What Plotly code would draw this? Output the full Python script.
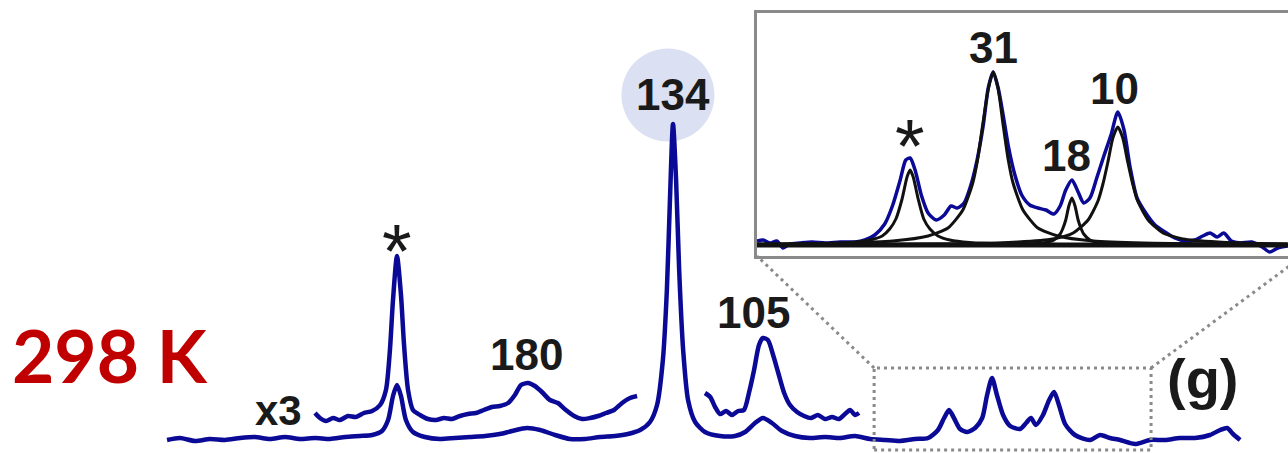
import plotly.graph_objects as go

# ---------------- data ----------------
# Raman shift (cm^-1) and intensity (arb. units), full spectrum
full_shift = [298.8, 294.6, 289.7, 284.8, 279.9, 275.0, 270.2, 265.3, 260.4, 255.5,
              250.6, 245.7, 240.8, 236.0, 232.0, 228.8, 226.8, 225.2, 223.9, 222.6,
              221.0, 218.7, 214.8, 209.9, 205.0, 200.1, 195.2, 190.4, 186.4, 181.6,
              177.3, 172.4, 167.6, 162.7, 157.8, 152.9, 148.7, 144.7, 141.5, 139.2,
              137.3, 136.0, 135.0, 134.0, 133.0, 132.0, 130.7, 129.1, 126.8, 123.6,
              118.7, 113.8, 110.5, 107.3, 104.7, 101.8, 98.5, 94.3, 89.4, 84.5,
              79.6, 74.7, 69.8, 64.9, 60.1, 55.2, 50.9, 47.7, 45.7, 44.1,
              42.5, 40.5, 38.2, 35.6, 33.3, 31.7, 30.1, 28.5, 26.5, 24.2,
              21.0, 19.0, 17.4, 15.8, 13.5, 11.5, 9.9, 8.3, 6.3, 3.1,
              -1.8, -5.1, -8.3, -11.6, -16.5, -21.4, -26.3, -31.1, -36.0, -40.9,
              -44.2, -46.5, -48.4, -50.7]
full_int = [-2, 0, -3, -1, -2, 0, 1, -1, 1, -1,
            0, -1, 1, 2, 3, 7, 18, 42, 53, 42,
            18, 6, 1, -1, 0, 1, 2, 4, 7, 10,
            8, 3, -1, -1, 1, 2, 4, 8, 16, 33,
            78, 148, 238, 314, 258, 168, 88, 38, 16, 6,
            2, 2, 6, 15, 20, 15, 7, 2, 0, 1,
            0, 2, -1, -2, -3, -1, 0, 8, 20, 28,
            20, 9, 6, 10, 20, 43, 60, 43, 23, 12,
            9, 15, 20, 13, 23, 38, 46, 33, 14, 3,
            -2, 3, 0, -2, -6, -2, -2, 0, 0, 3,
            8, 10, 4, -2]

# x3 magnified spectrum (offset), left and right segments
x3_left_shift = [250.6, 249.0, 247.0, 244.7, 242.5, 239.9, 237.3, 234.7, 232.0, 229.4,
                 227.5, 226.2, 225.2, 223.9, 222.6, 221.6, 220.3, 218.7, 216.4, 213.8,
                 211.2, 208.6, 206.0, 203.4, 200.8, 198.2, 195.6, 193.0, 190.4, 187.7,
                 185.5, 183.5, 181.2, 179.0, 176.7, 174.1, 171.5, 168.9, 166.2, 163.6,
                 161.0, 158.4, 155.8, 153.2, 150.6, 148.0, 145.7]
x3_left_int = [25, 20, 17, 20, 18, 22, 21, 25, 27, 33,
               48, 88, 138, 182, 143, 93, 48, 28, 23, 19,
               18, 20, 19, 22, 24, 25, 28, 31, 32, 35,
               43, 53, 55, 52, 46, 38, 35, 28, 22, 19,
               20, 22, 25, 28, 35, 40, 42]
x3_right_shift = [123.6, 121.9, 120.3, 118.7, 116.7, 114.8, 112.8, 110.9, 109.2, 107.6,
                  106.0, 104.7, 103.1, 101.4, 99.8, 97.8, 95.9, 93.6, 91.3, 89.0,
                  86.8, 84.5, 82.2, 79.9, 78.0, 76.3, 74.7, 73.4]
x3_right_int = [45, 41, 31, 24, 27, 23, 27, 28, 46, 68,
                93, 100, 98, 83, 66, 45, 33, 26, 22, 20,
                23, 19, 21, 19, 24, 28, 23, 25]

# inset: low-frequency region, measured spectrum
inset_shift = [68.5, 67.5, 66.4, 65.3, 64.3, 63.2, 61.6, 59.6, 57.5, 55.1,
               52.7, 51.1, 49.5, 47.9, 46.6, 45.4, 44.5, 43.8, 43.0, 42.0,
               40.9, 39.6, 38.3, 37.2, 36.2, 35.1, 34.0, 33.0, 32.0, 31.2,
               30.4, 29.6, 28.8, 27.9, 26.9, 25.8, 24.5, 23.2, 21.9, 20.6,
               19.6, 18.7, 17.7, 16.7, 15.8, 14.8, 13.7, 12.5, 11.4, 10.3,
               9.3, 8.3, 7.2, 5.9, 4.3, 2.7, 1.1, -0.5, -2.1, -3.4,
               -4.6, -5.7, -6.8, -8.0, -9.4, -11.3, -13.0, -14.2, -15.5, -17.1]
inset_int = [4, 5, 2, 4, -3, 1, 2, 3, 2, 3,
             3, 5, 10, 21, 40, 65, 85, 87, 75, 50,
             32, 25, 30, 39, 37, 42, 60, 85, 120, 157,
             173, 157, 130, 97, 70, 50, 40, 37, 35, 31,
             39, 55, 65, 53, 42, 47, 67, 90, 110, 133,
             115, 77, 47, 33, 20, 13, 7, 4, 5, 9,
             12, 8, 12, 4, 2, 3, -2, -7, -3, -1]

# inset: fitted components
fit_star_shift = [68.5, 60.0, 53.5, 50.3, 48.3, 47.1, 46.1, 45.1, 44.3, 43.8,
                  43.3, 42.5, 41.6, 40.6, 39.3, 37.4, 34.2, 27.7, 11.6, -17.1]
fit_star_int = [0.5, 1, 2.5, 5, 9, 16, 26, 46, 68, 75,
                68, 46, 26, 16, 9, 5, 2.5, 1, 0.3, 0.1]
fit_31_shift = [68.5, 54.6, 46.6, 40.9, 37.7, 35.3, 33.7, 32.9, 32.1, 31.2,
                30.4, 29.6, 28.8, 28.0, 27.2, 25.6, 23.2, 20.0, 14.3, 6.2, -17.1]
fit_31_int = [1, 2, 4, 9, 17, 35, 62, 86, 120, 156,
              173, 156, 120, 86, 62, 35, 17, 9, 4, 2, 0.8]
fit_18_shift = [68.5, 27.4, 22.5, 20.6, 19.6, 19.2, 18.7, 18.2, 17.7, 17.2,
                16.7, 16.2, 15.8, 14.8, 12.9, 8.0, -17.1]
fit_18_int = [0.1, 0.6, 2, 5, 11, 16, 25, 39, 47, 39,
              25, 16, 11, 5, 2, 0.6, 0.1]
fit_10_shift = [68.5, 34.5, 26.4, 20.8, 17.5, 15.1, 13.5, 12.7, 11.9, 11.1,
                10.3, 9.5, 8.7, 7.9, 7.1, 5.4, 3.0, -0.2, -5.9, -13.9, -17.1]
fit_10_int = [0.3, 1.3, 3, 6, 12, 25, 44, 61, 83, 107,
              118, 107, 83, 61, 44, 25, 12, 6, 3, 1.3, 1]
baseline_shift = [68.5, -17.1]
baseline_int = [0, 0]

# labels
main_labels = ["*", "180", "134", "105"]
main_label_shift = [223.9, 181.6, 134.0, 107.9]
main_label_int = [188, 84, 344, 126]
inset_labels = ["*", "31", "18", "10"]
inset_label_shift = [43.8, 30.4, 18.5, 10.9]
inset_label_int = [100, 198, 90, 157]
temperature_label = "298 K"
panel_label = "(g)"
scale_label = "x3"

# ---------------- styling / layout ----------------
W, H = 1288, 453
BLUE = "#0a0a96"
BLACK = "#111111"
GREY = "#8a8a8a"
XR = [353.2, -66.3]          # main shift range (reversed)
YR = [-15, 438]              # main intensity range
IN_XDOM = [757 / W, 1.0]
IN_YDOM = [1 - 256 / H, 1 - 13 / H]
IN_XR = [68.5, -17.15]
IN_YR = [-11, 232]
IN_RIGHT_EDGE = 1303 / W     # inset frame continues beyond the canvas
ZOOM_SHIFT = (68.5, -21.7)
ZOOM_INT = (-12, 70)

def px_x(v):   # main data -> paper
    return (v - XR[0]) / (XR[1] - XR[0])

def py_y(v):
    return (v - YR[0]) / (YR[1] - YR[0])

fig = go.Figure()

spline = dict(shape="spline", smoothing=0.7)
for xs, ys in [(full_shift, full_int), (x3_left_shift, x3_left_int), (x3_right_shift, x3_right_int)]:
    fig.add_trace(go.Scatter(x=xs, y=ys, mode="lines",
                             line=dict(color=BLUE, width=4.5, **spline), hoverinfo="skip"))

fig.add_trace(go.Scatter(x=inset_shift, y=inset_int, mode="lines", xaxis="x2", yaxis="y2",
                         line=dict(color=BLUE, width=3.5, **spline), hoverinfo="skip"))
for xs, ys in [(fit_star_shift, fit_star_int), (fit_31_shift, fit_31_int),
               (fit_18_shift, fit_18_int), (fit_10_shift, fit_10_int)]:
    fig.add_trace(go.Scatter(x=xs, y=ys, mode="lines", xaxis="x2", yaxis="y2",
                             line=dict(color=BLACK, width=3, shape="spline", smoothing=0.6),
                             hoverinfo="skip"))
fig.add_trace(go.Scatter(x=baseline_shift, y=baseline_int, mode="lines", xaxis="x2", yaxis="y2",
                         line=dict(color=BLACK, width=5), hoverinfo="skip"))

FAM = "Liberation Sans, Arial"
TXT = "#1a1a1a"
annotations = []
for t, xs, ys in zip(main_labels, main_label_shift, main_label_int):
    star = t == "*"
    annotations.append(dict(x=xs, y=ys, xref="x", yref="y", text=t if star else f"<b>{t}</b>",
                            showarrow=False, font=dict(family=FAM, size=76 if star else 44, color=TXT),
                            xanchor="center", yanchor="middle"))
for t, xs, ys in zip(inset_labels, inset_label_shift, inset_label_int):
    star = t == "*"
    annotations.append(dict(x=xs, y=ys, xref="x2", yref="y2", text=t if star else f"<b>{t}</b>",
                            showarrow=False, font=dict(family=FAM, size=76 if star else 44, color=TXT),
                            xanchor="center", yanchor="middle"))
annotations.append(dict(x=262.5, y=28, xref="x", yref="y", text=f"<b>{scale_label}</b>",
                        showarrow=False, font=dict(family=FAM, size=42, color=TXT),
                        xanchor="center", yanchor="middle"))
annotations.append(dict(x=-38.6, y=60, xref="x", yref="y", text=f"<b>{panel_label}</b>",
                        showarrow=False, font=dict(family=FAM, size=56, color=TXT),
                        xanchor="center", yanchor="middle"))
annotations.append(dict(x=110 / W, y=1 - 355 / H, xref="paper", yref="paper", text=f"<b>{temperature_label}</b>",
                        showarrow=False, font=dict(family="Lato, Open Sans", size=73, color="#C00000"),
                        xanchor="center", yanchor="middle"))

dotted = dict(color=GREY, width=3, dash="3px,4px")
shapes = [
    dict(type="circle", xref="x", yref="y", x0=150.8, x1=120.5, y0=296.5, y1=389.5,
         fillcolor="#dbe1f2", line=dict(width=0), layer="below"),
    dict(type="rect", xref="x", yref="y", x0=ZOOM_SHIFT[0], x1=ZOOM_SHIFT[1],
         y0=ZOOM_INT[0], y1=ZOOM_INT[1], line=dotted),
    dict(type="line", xref="paper", yref="paper",
         x0=px_x(ZOOM_SHIFT[0]), y0=py_y(ZOOM_INT[1]), x1=IN_XDOM[0], y1=IN_YDOM[0], line=dotted),
    dict(type="line", xref="paper", yref="paper",
         x0=px_x(ZOOM_SHIFT[1]), y0=py_y(ZOOM_INT[1]), x1=IN_RIGHT_EDGE, y1=IN_YDOM[0], line=dotted),
]

fig.update_layout(
    width=W, height=H, margin=dict(l=0, r=0, t=0, b=0),
    paper_bgcolor="white", plot_bgcolor="white", showlegend=False,
    xaxis=dict(range=XR, domain=[0, 1], visible=False),
    yaxis=dict(range=YR, domain=[0, 1], visible=False),
    xaxis2=dict(range=IN_XR, domain=IN_XDOM, anchor="y2", showline=True, mirror=True,
                linecolor=GREY, linewidth=3, showgrid=False, zeroline=False,
                showticklabels=False, ticks=""),
    yaxis2=dict(range=IN_YR, domain=IN_YDOM, anchor="x2", showline=True, mirror=False,
                linecolor=GREY, linewidth=3, showgrid=False, zeroline=False,
                showticklabels=False, ticks=""),
    annotations=annotations, shapes=shapes,
)

fig.write_html("out.html", config={"displayModeBar": False, "staticPlot": True},
               post_script="document.body.style.margin='0';document.body.style.overflow='hidden';")
